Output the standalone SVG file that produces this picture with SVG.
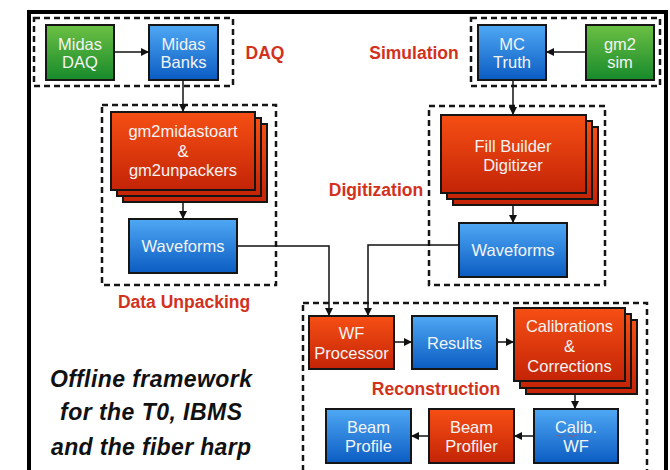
<svg xmlns="http://www.w3.org/2000/svg" width="670" height="470" viewBox="0 0 670 470">
<defs>
<linearGradient id="gb" x1="0" y1="0" x2="0" y2="1"><stop offset="0" stop-color="#4fa8f4"/><stop offset="1" stop-color="#0b5cc2"/></linearGradient>
<linearGradient id="gg" x1="0" y1="0" x2="0" y2="1"><stop offset="0" stop-color="#6cc043"/><stop offset="1" stop-color="#178a2b"/></linearGradient>
<linearGradient id="gr" x1="0" y1="0" x2="0" y2="1"><stop offset="0" stop-color="#f64f14"/><stop offset="1" stop-color="#c42407"/></linearGradient>
<marker id="ah" markerUnits="userSpaceOnUse" markerWidth="9" markerHeight="9" refX="8" refY="4" orient="auto"><path d="M0,0 L8,4 L0,8 z" fill="#111"/></marker>
<style>
.b{fill:url(#gb);stroke:#151515;stroke-width:2}
.g{fill:url(#gg);stroke:#151515;stroke-width:2}
.r{fill:url(#gr);stroke:#151515;stroke-width:2}
.t{font-family:"Liberation Sans",Arial,sans-serif;font-size:16.5px;fill:#f4f4f4;text-anchor:middle}
.lab{font-family:"Liberation Sans",Arial,sans-serif;font-size:17.5px;font-weight:bold;fill:#d2311c;text-anchor:middle}
.dash{fill:none;stroke:#151515;stroke-width:2.5;stroke-dasharray:6 4}
.c{fill:none;stroke:#111;stroke-width:1.5;marker-end:url(#ah)}
.it{font-family:"Liberation Sans",Arial,sans-serif;font-size:23px;font-weight:bold;font-style:italic;fill:#111;text-anchor:middle}
</style>
</defs>
<rect x="0" y="0" width="670" height="470" fill="#ffffff"/>
<rect x="29" y="12" width="637" height="490" fill="none" stroke="#000" stroke-width="4"/>

<g id="groups">
<rect class="dash" x="34" y="18" width="199" height="68"/>
<rect class="dash" x="471" y="18" width="189" height="68"/>
<rect class="dash" x="102" y="105" width="174" height="180"/>
<rect class="dash" x="429" y="106" width="176" height="179"/>
<rect class="dash" x="303" y="303" width="344" height="190"/>
<text class="lab" x="265" y="59">DAQ</text>
<text class="lab" x="414" y="59">Simulation</text>
<text class="lab" x="184" y="308">Data Unpacking</text>
<text class="lab" x="376" y="196">Digitization</text>
<text class="lab" x="436" y="395">Reconstruction</text>
</g>

<g id="connectors">
<path class="c" d="M114,52 H149"/>
<path class="c" d="M586,52 H546"/>
<path class="c" d="M183,80 V112"/>
<path class="c" d="M183,202 V219"/>
<path class="c" d="M513,80 V115"/>
<path class="c" d="M513,205 V223"/>
<path class="c" d="M237,246 H329 V316"/>
<path class="c" d="M459,245 H368 V316"/>
<path class="c" d="M394,342 H412"/>
<path class="c" d="M497,342 H514"/>
<path class="c" d="M575,394 V409"/>
<path class="c" d="M534,436 H514"/>
<path class="c" d="M429,436 H411"/>
</g>

<g id="midas-daq"><rect class="g" x="46" y="25" width="68" height="55"/><text class="t" x="80" y="50">Midas</text><text class="t" x="80" y="68">DAQ</text></g>
<g id="midas-banks"><rect class="b" x="149" y="25" width="69" height="55"/><text class="t" x="183.5" y="50">Midas</text><text class="t" x="183.5" y="68">Banks</text></g>
<g id="mc-truth"><rect class="b" x="478" y="25" width="68" height="55"/><text class="t" x="512" y="50">MC</text><text class="t" x="512" y="68">Truth</text></g>
<g id="gm2-sim"><rect class="g" x="586" y="25" width="68" height="55"/><text class="t" x="620" y="50">gm2</text><text class="t" x="620" y="68">sim</text></g>

<g id="gm2midastoart">
<rect class="r" x="123" y="124" width="144" height="78"/>
<rect class="r" x="117" y="118" width="144" height="78"/>
<rect class="r" x="111" y="112" width="144" height="78"/>
<text class="t" x="183" y="137">gm2midastoart</text><text class="t" x="183" y="157">&amp;</text><text class="t" x="183" y="176">gm2unpackers</text>
</g>
<g id="waveforms-l"><rect class="b" x="129" y="219" width="108" height="54"/><text class="t" x="183" y="252">Waveforms</text></g>

<g id="fill-builder">
<rect class="r" x="453" y="127" width="145" height="78"/>
<rect class="r" x="447" y="121" width="145" height="78"/>
<rect class="r" x="441" y="115" width="145" height="78"/>
<text class="t" x="513" y="152">Fill Builder</text><text class="t" x="513" y="171">Digitizer</text>
</g>
<g id="waveforms-r"><rect class="b" x="459" y="223" width="108" height="54"/><text class="t" x="513" y="256">Waveforms</text></g>

<g id="wf-processor"><rect class="r" x="309" y="316" width="85" height="53"/><text class="t" x="351.5" y="339">WF</text><text class="t" x="351.5" y="359">Processor</text></g>
<g id="results"><rect class="b" x="412" y="316" width="85" height="53"/><text class="t" x="454.5" y="349">Results</text></g>
<g id="calibrations">
<rect class="r" x="526" y="320" width="111" height="74"/>
<rect class="r" x="520" y="314" width="111" height="74"/>
<rect class="r" x="514" y="308" width="111" height="73"/>
<text class="t" x="569.5" y="332">Calibrations</text><text class="t" x="569.5" y="352">&amp;</text><text class="t" x="569.5" y="372">Corrections</text>
</g>
<g id="calib-wf"><rect class="b" x="534" y="409" width="84" height="54"/><text class="t" x="576" y="433">Calib.</text><text class="t" x="576" y="452">WF</text><path d="M556,436 q1.5,-1.5 3,0 t3,0 t3,0 t3,0 t3,0 t3,0 t3,0" fill="none" stroke="#d83030" stroke-width="0.8" stroke-dasharray="1 1"/></g>
<g id="beam-profiler"><rect class="r" x="429" y="409" width="85" height="54"/><text class="t" x="471.5" y="433">Beam</text><text class="t" x="471.5" y="452">Profiler</text></g>
<g id="beam-profile"><rect class="b" x="326" y="409" width="85" height="54"/><text class="t" x="368.5" y="433">Beam</text><text class="t" x="368.5" y="452">Profile</text></g>

<g id="caption">
<text class="it" x="151" y="387" textLength="202" lengthAdjust="spacing">Offline framework</text>
<text class="it" x="151" y="420" textLength="182" lengthAdjust="spacing">for the T0, IBMS</text>
<text class="it" x="151" y="455" textLength="200" lengthAdjust="spacing">and the fiber harp</text>
</g>
</svg>
